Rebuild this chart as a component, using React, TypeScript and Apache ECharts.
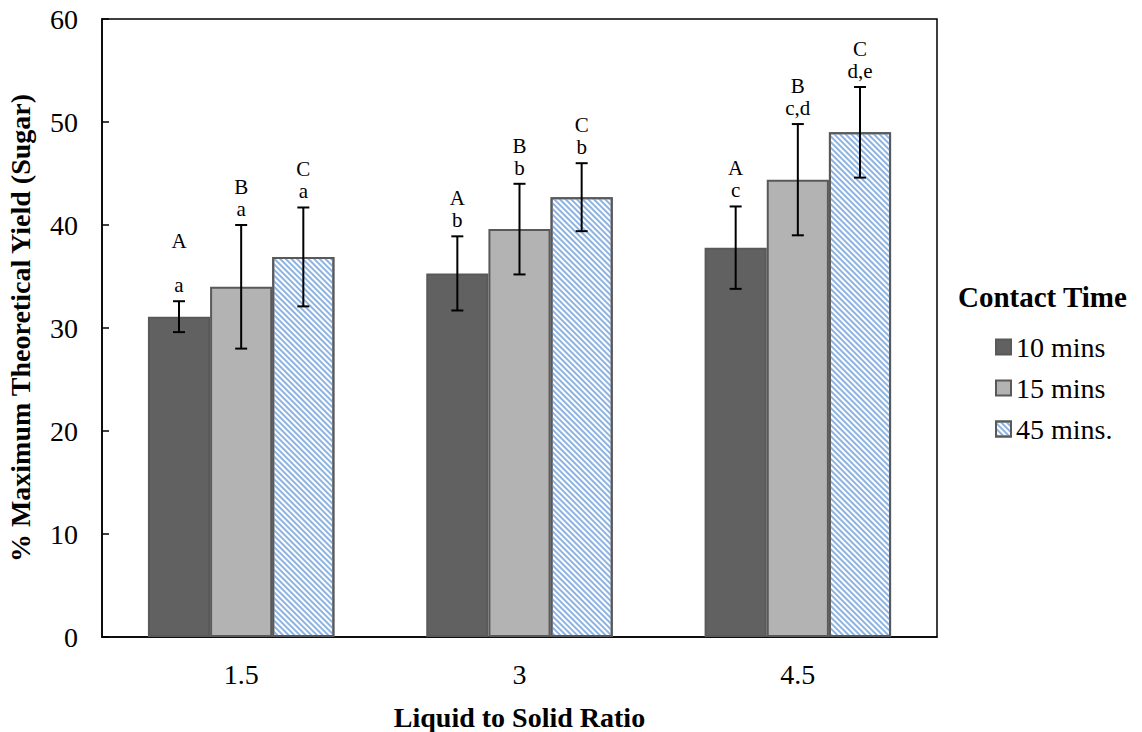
import React, { useEffect, useRef } from 'react';
import * as echarts from 'echarts';

const categories = ['1.5', '3', '4.5'];
const seriesNames = ['10 mins', '15 mins', '45 mins.'];
const values10 = [31.1, 35.3, 37.8];
const values15 = [34.0, 39.6, 44.4];
const values45 = [36.9, 42.7, 49.0];
const err10 = [1.5, 3.6, 4.0];
const err15 = [6.0, 4.4, 5.4];
const err45 = [4.8, 3.3, 4.4];
const labels10 = ['A\n\na', 'A\nb', 'A\nc'];
const labels15 = ['B\na', 'B\nb', 'B\nc,d'];
const labels45 = ['C\na', 'C\nb', 'C\nd,e'];
const yTicks = [0, 10, 20, 30, 40, 50, 60];

const FONT = 'Liberation Serif';
const CAT_GAP = 0.33;

export default function App() {
  const ref = useRef<HTMLDivElement>(null);
  useEffect(() => {
    if (!ref.current) return;
    const chart = echarts.init(ref.current, undefined, { renderer: 'svg' });
    const values = [values10, values15, values45];
    const errs = [err10, err15, err45];
    const labels = [labels10, labels15, labels45];
    const fills = ['#616161', '#b3b3b3', '#ffffff'];

    const barSeries: any[] = seriesNames.map((name, i) => ({
      name,
      type: 'bar',
      data: values[i],
      barGap: '0%',
      barCategoryGap: CAT_GAP * 100 + '%',
      itemStyle: {
        color: fills[i],
        borderColor: '#595959',
        borderWidth: 2,
        decal: i === 2
          ? {
              symbol: 'rect',
              symbolSize: 1,
              dashArrayX: [[1, 0]],
              dashArrayY: [1.5, 2],
              rotation: Math.PI / 4,
              color: '#8db3e2',
            }
          : 'none',
      },
      z: 2,
    }));

    const errSeries: any[] = seriesNames.map((name, i) => ({
      name: name + ' err',
      type: 'custom',
      data: categories.map((_, k) => [k, values[i][k], errs[i][k], labels[i][k]]),
      z: 5,
      renderItem: (params: any, api: any) => {
        const idx = api.value(0);
        const v = api.value(1);
        const e = api.value(2);
        const band = api.size([1, 0])[0];
        const bw = (band * (1 - CAT_GAP)) / 3;
        const cx = api.coord([idx, v])[0] + (i - 1) * bw;
        const yt = api.coord([idx, v + e])[1];
        const yb = api.coord([idx, v - e])[1];
        const cap = 6;
        const ls = { stroke: '#000', lineWidth: 2 };
        return {
          type: 'group',
          children: [
            { type: 'line', shape: { x1: cx, y1: yt, x2: cx, y2: yb }, style: ls },
            { type: 'line', shape: { x1: cx - cap, y1: yt, x2: cx + cap, y2: yt }, style: ls },
            { type: 'line', shape: { x1: cx - cap, y1: yb, x2: cx + cap, y2: yb }, style: ls },
            {
              type: 'text',
              x: cx,
              y: yt - 5,
              style: {
                text: labels[i][idx],
                fill: '#000',
                fontSize: 21,
                fontFamily: FONT,
                lineHeight: 22,
                align: 'center',
                verticalAlign: 'bottom',
              },
            },
          ],
        };
      },
    }));

    chart.setOption({
      animation: false,
      backgroundColor: '#ffffff',
      textStyle: { fontFamily: FONT, color: '#000' },
      title: {
        text: 'Contact Time',
        left: 953,
        top: 277,
        textStyle: { fontFamily: FONT, fontWeight: 'bold', fontSize: 29, color: '#000' },
      },
      legend: {
        data: seriesNames,
        orient: 'vertical',
        left: 990,
        top: 328,
        icon: 'rect',
        itemWidth: 15,
        itemHeight: 15,
        itemGap: 13,
        textStyle: { fontFamily: FONT, fontSize: 28, color: '#000' },
      },
      grid: {
        left: 102,
        top: 19,
        right: 205,
        bottom: 95,
        show: true,
        borderColor: '#000',
        borderWidth: 1.5,
        backgroundColor: 'transparent',
        outerBoundsMode: 'none',
        containLabel: false,
      },
      xAxis: {
        type: 'category',
        data: categories,
        name: 'Liquid to Solid Ratio',
        nameLocation: 'middle',
        nameGap: 66,
        nameTextStyle: { fontFamily: FONT, fontWeight: 'bold', fontSize: 28, color: '#000' },
        axisLine: { lineStyle: { color: '#000', width: 1.5 } },
        axisTick: { inside: true, length: 7, lineStyle: { color: '#000', width: 1.5 } },
        axisLabel: { fontFamily: FONT, fontSize: 28, color: '#000', margin: 23 },
      },
      yAxis: {
        type: 'value',
        min: yTicks[0],
        max: yTicks[yTicks.length - 1],
        interval: 10,
        name: '% Maximum Theoretical Yield (Sugar)',
        nameLocation: 'middle',
        nameGap: 68,
        nameTextStyle: { fontFamily: FONT, fontWeight: 'bold', fontSize: 28, color: '#000' },
        axisLine: { show: true, lineStyle: { color: '#000', width: 1.5 } },
        axisTick: { show: true, inside: true, length: 7, lineStyle: { color: '#000', width: 1.5 } },
        axisLabel: { fontFamily: FONT, fontSize: 28, color: '#000', margin: 24 },
        splitLine: { show: false },
      },
      series: [...barSeries, ...errSeries],
    });
    return () => chart.dispose();
  }, []);
  return <div ref={ref} style={{ width: 1142, height: 732, position: 'absolute', left: 0, top: 0 }} />;
}
